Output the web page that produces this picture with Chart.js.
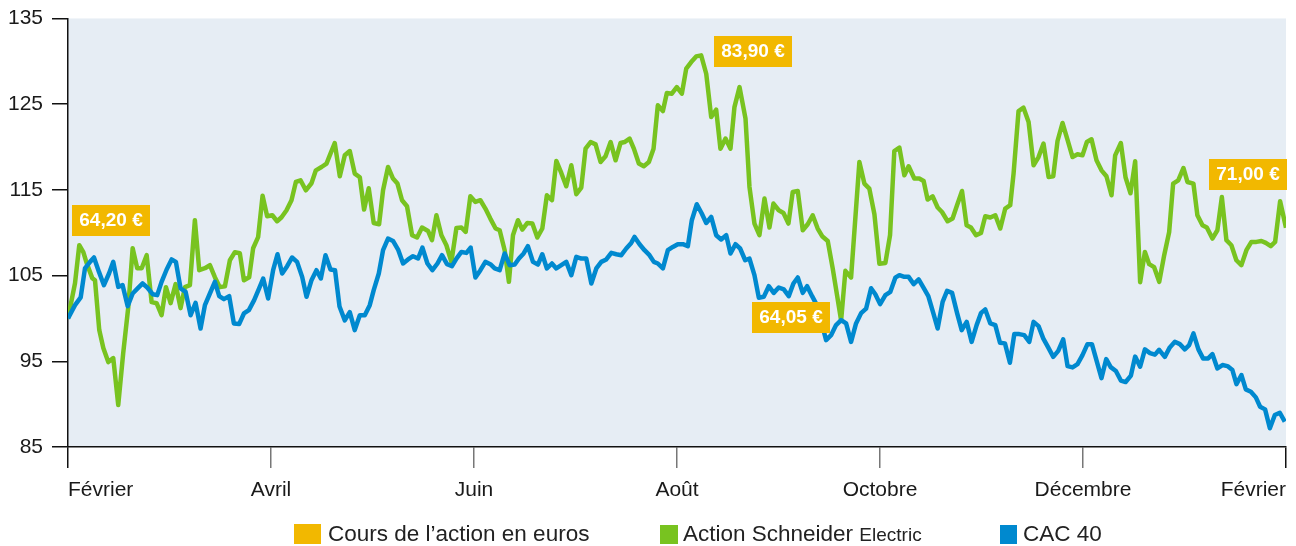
<!DOCTYPE html>
<html>
<head>
<meta charset="utf-8">
<script src="https://cdn.jsdelivr.net/npm/chart.js@4.4.1/dist/chart.umd.min.js"></script>
<style>
  html, body { margin: 0; padding: 0; background: #fff; }
  #wrap { width: 1296px; height: 546px; }
</style>
</head>
<body>
<div id="wrap"><canvas id="myChart" width="1296" height="546"></canvas></div>
<script>
// x = months since start of period, y = index (base 100)
const monthLabels = ['Février', 'Avril', 'Juin', 'Août', 'Octobre', 'Décembre', 'Février'];
const yTicks = [85, 95, 105, 115, 125, 135];

const schneiderMonths = [0, 0.069, 0.111, 0.151, 0.184, 0.239, 0.266, 0.308, 0.348, 0.397, 0.446, 0.495, 0.544, 0.594, 0.637, 0.682, 0.726, 0.775, 0.824, 0.873, 0.922, 0.965, 1.011, 1.060, 1.109, 1.152, 1.201, 1.250, 1.293, 1.349, 1.398, 1.447, 1.496, 1.546, 1.595, 1.644, 1.693, 1.733, 1.785, 1.824, 1.873, 1.917, 1.962, 2.013, 2.060, 2.104, 2.153, 2.202, 2.245, 2.291, 2.343, 2.399, 2.442, 2.498, 2.547, 2.586, 2.628, 2.678, 2.727, 2.776, 2.825, 2.875, 2.917, 2.963, 3.012, 3.065, 3.104, 3.153, 3.202, 3.246, 3.291, 3.340, 3.390, 3.439, 3.488, 3.547, 3.586, 3.630, 3.679, 3.728, 3.777, 3.827, 3.876, 3.918, 3.964, 4.014, 4.063, 4.112, 4.161, 4.213, 4.253, 4.302, 4.344, 4.384, 4.433, 4.476, 4.526, 4.575, 4.624, 4.673, 4.718, 4.768, 4.811, 4.860, 4.909, 4.959, 5.008, 5.057, 5.099, 5.149, 5.198, 5.247, 5.296, 5.346, 5.395, 5.444, 5.483, 5.533, 5.575, 5.624, 5.673, 5.723, 5.769, 5.811, 5.861, 5.900, 5.949, 5.998, 6.048, 6.091, 6.140, 6.189, 6.238, 6.288, 6.337, 6.386, 6.428, 6.478, 6.527, 6.566, 6.616, 6.675, 6.714, 6.763, 6.812, 6.862, 6.911, 6.950, 7.002, 7.049, 7.098, 7.140, 7.190, 7.239, 7.288, 7.337, 7.386, 7.430, 7.485, 7.534, 7.617, 7.659, 7.715, 7.797, 7.846, 7.895, 7.945, 7.994, 8.053, 8.099, 8.141, 8.191, 8.240, 8.282, 8.338, 8.387, 8.430, 8.469, 8.518, 8.568, 8.611, 8.666, 8.715, 8.759, 8.808, 8.853, 8.896, 8.946, 8.995, 9.037, 9.087, 9.136, 9.185, 9.234, 9.283, 9.316, 9.365, 9.414, 9.464, 9.513, 9.562, 9.611, 9.661, 9.707, 9.749, 9.798, 9.847, 9.897, 9.946, 9.995, 10.038, 10.084, 10.133, 10.182, 10.231, 10.281, 10.317, 10.373, 10.419, 10.468, 10.514, 10.563, 10.610, 10.652, 10.701, 10.751, 10.800, 10.849, 10.888, 10.938, 10.990, 11.029, 11.088, 11.127, 11.177, 11.220, 11.275, 11.324, 11.368, 11.413, 11.462, 11.511, 11.560, 11.610, 11.659, 11.708, 11.758, 11.801, 11.850, 11.893, 11.942, 12];
const schneiderIndex = [100, 104.11, 108.54, 107.73, 106.45, 104.70, 104.46, 98.64, 96.54, 94.91, 95.37, 89.90, 95.96, 101.32, 108.19, 105.86, 105.86, 107.38, 101.90, 101.78, 100.38, 103.65, 101.78, 104.00, 101.20, 103.65, 103.88, 111.46, 105.63, 105.86, 106.21, 104.81, 103.65, 103.76, 106.79, 107.73, 107.61, 104.46, 104.81, 108.19, 109.48, 114.31, 111.92, 112.04, 111.34, 111.81, 112.62, 113.79, 115.92, 116.12, 114.95, 115.77, 117.28, 117.67, 118.07, 119.23, 120.47, 116.59, 119.03, 119.53, 116.90, 116.47, 112.70, 115.19, 111.14, 110.99, 114.95, 117.67, 116.32, 115.73, 113.79, 113.09, 109.71, 109.44, 110.61, 110.21, 109.13, 112.04, 109.71, 108.54, 106.60, 110.56, 110.61, 110.09, 114.25, 113.59, 113.79, 112.82, 111.65, 110.49, 110.29, 107.96, 104.27, 109.71, 111.46, 110.37, 111.14, 111.07, 109.44, 110.49, 114.37, 113.79, 118.37, 116.97, 115.42, 117.87, 114.49, 115.27, 119.81, 120.58, 120.31, 118.25, 118.92, 120.58, 118.45, 120.47, 120.58, 120.98, 119.81, 118.07, 117.75, 118.25, 119.81, 124.86, 124.20, 126.29, 126.22, 126.99, 126.22, 129.14, 129.91, 130.57, 130.69, 128.55, 123.50, 124.36, 119.81, 120.98, 119.81, 124.66, 126.99, 123.31, 115.34, 111.07, 109.71, 113.99, 110.61, 113.40, 112.62, 112.31, 111.07, 114.76, 114.87, 110.29, 110.99, 112.04, 110.49, 109.59, 109.04, 105.83, 99.77, 105.55, 104.78, 118.25, 115.73, 115.15, 112.16, 106.39, 106.48, 109.71, 119.53, 119.93, 116.70, 117.75, 116.32, 116.32, 116.04, 113.87, 114.25, 112.94, 112.42, 111.34, 111.65, 113.21, 114.87, 110.87, 110.61, 109.71, 109.98, 111.92, 111.77, 112.04, 110.49, 112.82, 113.21, 116.90, 124.20, 124.59, 122.91, 117.87, 118.83, 120.40, 116.50, 116.59, 120.70, 122.80, 120.86, 118.83, 119.15, 119.03, 120.58, 120.90, 118.45, 117.28, 116.59, 114.37, 119.03, 120.47, 116.47, 114.60, 118.33, 104.23, 107.76, 106.33, 105.98, 104.27, 107.38, 110.09, 115.73, 116.12, 117.55, 115.92, 115.73, 112.04, 110.87, 110.61, 109.32, 110.29, 114.17, 109.13, 108.54, 106.79, 106.21, 107.96, 108.93, 108.93, 109.04, 108.81, 108.43, 108.93, 113.67, 110.59];

const cacMonths = [0, 0.069, 0.125, 0.167, 0.217, 0.256, 0.305, 0.354, 0.404, 0.446, 0.495, 0.538, 0.588, 0.637, 0.686, 0.735, 0.781, 0.834, 0.879, 0.922, 0.972, 1.021, 1.063, 1.109, 1.159, 1.208, 1.257, 1.306, 1.349, 1.398, 1.447, 1.490, 1.536, 1.588, 1.634, 1.686, 1.733, 1.782, 1.834, 1.883, 1.923, 1.972, 2.021, 2.064, 2.110, 2.159, 2.208, 2.257, 2.307, 2.350, 2.399, 2.448, 2.491, 2.537, 2.586, 2.631, 2.675, 2.727, 2.776, 2.825, 2.875, 2.924, 2.973, 3.012, 3.062, 3.104, 3.153, 3.202, 3.252, 3.301, 3.350, 3.399, 3.449, 3.492, 3.541, 3.590, 3.640, 3.685, 3.734, 3.783, 3.827, 3.876, 3.925, 3.967, 4.014, 4.063, 4.112, 4.161, 4.204, 4.253, 4.302, 4.351, 4.401, 4.443, 4.489, 4.531, 4.581, 4.630, 4.673, 4.718, 4.768, 4.811, 4.860, 4.909, 4.959, 5.008, 5.057, 5.106, 5.156, 5.205, 5.254, 5.303, 5.353, 5.402, 5.451, 5.500, 5.549, 5.582, 5.631, 5.680, 5.729, 5.772, 5.811, 5.861, 5.910, 5.959, 6.008, 6.058, 6.107, 6.146, 6.195, 6.244, 6.288, 6.337, 6.386, 6.435, 6.485, 6.527, 6.576, 6.622, 6.672, 6.714, 6.763, 6.806, 6.855, 6.904, 6.953, 7.002, 7.052, 7.101, 7.147, 7.190, 7.239, 7.282, 7.331, 7.378, 7.423, 7.469, 7.518, 7.567, 7.617, 7.666, 7.715, 7.764, 7.814, 7.863, 7.912, 7.954, 8.001, 8.053, 8.102, 8.151, 8.191, 8.240, 8.282, 8.332, 8.381, 8.427, 8.476, 8.526, 8.568, 8.617, 8.661, 8.710, 8.759, 8.805, 8.854, 8.903, 8.952, 8.996, 9.037, 9.087, 9.136, 9.182, 9.231, 9.280, 9.323, 9.372, 9.421, 9.471, 9.513, 9.562, 9.608, 9.657, 9.707, 9.756, 9.805, 9.848, 9.897, 9.946, 9.995, 10.044, 10.088, 10.133, 10.182, 10.229, 10.273, 10.324, 10.373, 10.420, 10.472, 10.514, 10.563, 10.610, 10.660, 10.709, 10.750, 10.806, 10.855, 10.905, 10.954, 11.003, 11.046, 11.088, 11.137, 11.183, 11.233, 11.275, 11.324, 11.374, 11.423, 11.472, 11.512, 11.561, 11.604, 11.654, 11.703, 11.745, 11.794, 11.841, 11.890, 11.939, 11.988];
const cacIndex = [100, 101.55, 102.45, 105.83, 106.60, 107.11, 105.43, 103.88, 105.24, 106.60, 103.68, 103.88, 101.43, 102.91, 103.50, 104.08, 103.61, 102.83, 102.72, 104.27, 105.71, 106.88, 106.60, 103.50, 103.10, 100.38, 101.82, 98.83, 101.55, 102.91, 104.27, 102.60, 102.25, 102.60, 99.42, 99.34, 100.58, 100.97, 102.13, 103.50, 104.66, 102.33, 105.63, 107.49, 105.24, 106.10, 107.11, 106.60, 104.85, 102.52, 104.46, 105.63, 104.66, 107.38, 105.71, 105.63, 101.40, 99.77, 100.73, 98.64, 100.38, 100.38, 101.55, 103.30, 105.24, 107.96, 109.32, 109.04, 108.04, 106.41, 106.88, 107.26, 106.99, 108.27, 106.41, 105.63, 106.41, 107.38, 106.33, 106.10, 106.99, 107.76, 107.65, 108.27, 104.78, 105.63, 106.60, 106.33, 105.83, 105.63, 107.58, 106.21, 106.29, 106.99, 107.58, 108.43, 106.60, 106.29, 107.49, 105.83, 106.41, 105.83, 106.21, 106.60, 105.05, 107.18, 106.99, 106.99, 104.08, 105.83, 106.60, 106.88, 107.65, 107.49, 107.38, 108.16, 108.81, 109.51, 108.66, 107.96, 107.38, 106.60, 106.41, 105.83, 107.96, 108.34, 108.66, 108.66, 108.43, 111.46, 113.32, 112.24, 111.14, 111.84, 109.71, 109.21, 109.71, 107.58, 108.66, 108.16, 106.79, 106.99, 105.05, 102.42, 102.52, 103.76, 102.98, 103.61, 103.38, 102.60, 104.08, 104.78, 102.98, 103.76, 102.60, 101.55, 99.57, 97.47, 98.05, 99.22, 99.80, 99.42, 97.27, 99.42, 100.62, 101.14, 103.53, 102.83, 101.67, 102.72, 103.10, 104.76, 105.05, 104.85, 104.85, 104.00, 104.55, 103.61, 102.60, 100.58, 98.83, 101.93, 103.22, 102.98, 100.65, 98.64, 99.60, 97.27, 99.22, 100.65, 101.05, 99.42, 99.22, 97.16, 97.09, 94.83, 98.17, 98.17, 98.05, 97.27, 99.60, 99.10, 97.67, 96.62, 95.52, 96.22, 97.55, 94.44, 94.29, 94.67, 95.72, 97.00, 97.00, 95.10, 93.04, 95.26, 94.32, 93.86, 92.75, 92.58, 93.33, 95.55, 94.36, 96.39, 95.96, 95.78, 96.34, 95.52, 96.62, 97.27, 97.00, 96.39, 96.89, 98.25, 96.39, 95.34, 95.34, 95.84, 94.17, 94.56, 94.44, 93.97, 92.34, 93.39, 91.72, 91.45, 90.79, 89.70, 89.39, 87.18, 88.73, 89.00, 87.95];

const calloutTexts = ['64,20 €', '83,90 €', '64,05 €', '71,00 €'];
const legendTexts = ['Cours de l’action en euros', 'Action Schneider', 'CAC 40'];

const GREEN = '#78c320';
const BLUE = '#0089cf';
const GOLD = '#f2b800';
const FONT = "'Liberation Sans', Arial, sans-serif";

const toPoints = (xs, ys) => xs.map((x, i) => ({ x: x, y: ys[i] }));

// light blue-grey plot background
const plotBackground = {
  id: 'plotBackground',
  beforeDraw(chart) {
    const { ctx, chartArea: a } = chart;
    ctx.save();
    ctx.fillStyle = '#e6edf4';
    ctx.fillRect(a.left, a.top, a.right - a.left, a.bottom - a.top);
    ctx.restore();
  }
};

// price boxes, top-left corner given in data units
const callouts = {
  id: 'callouts',
  afterDatasetsDraw(chart) {
    const { ctx, scales: { x, y } } = chart;
    const spots = [[0.036, 113.2], [6.36, 133.0], [6.74, 101.87], [11.24, 118.57]];
    ctx.save();
    ctx.font = "bold 19px " + FONT;
    ctx.textBaseline = 'middle';
    ctx.textAlign = 'center';
    calloutTexts.forEach((t, i) => {
      const px = Math.round(x.getPixelForValue(spots[i][0]));
      const py = Math.round(y.getPixelForValue(spots[i][1]));
      ctx.fillStyle = GOLD;
      ctx.fillRect(px, py, 78, 31);
      ctx.fillStyle = '#fff';
      ctx.fillText(t, px + 39, py + 16);
    });
    ctx.restore();
  }
};

// legend row under the axis
const bottomLegend = {
  id: 'bottomLegend',
  afterDraw(chart) {
    const { ctx } = chart;
    const cy = 534;
    ctx.save();
    ctx.textBaseline = 'middle';
    ctx.textAlign = 'left';
    ctx.fillStyle = GOLD;
    ctx.fillRect(294, cy - 10, 27, 20);
    ctx.fillStyle = GREEN;
    ctx.fillRect(660, cy - 9, 18, 19);
    ctx.fillStyle = BLUE;
    ctx.fillRect(1000, cy - 9, 17, 19);
    ctx.fillStyle = '#222';
    ctx.font = '22.5px ' + FONT;
    ctx.fillText(legendTexts[0], 328, cy + 1);
    ctx.fillText(legendTexts[1], 683, cy + 1);
    const w = ctx.measureText(legendTexts[1] + ' ').width;
    ctx.font = '19px ' + FONT;
    ctx.fillText('Electric', 683 + w, cy + 2);
    ctx.font = '22.5px ' + FONT;
    ctx.fillText(legendTexts[2], 1023, cy + 1);
    ctx.restore();
  }
};

window.onload = function() {
  const ctx = document.getElementById('myChart').getContext('2d');
  new Chart(ctx, {
    type: 'line',
    data: {
      datasets: [{
        label: 'CAC 40',
        data: toPoints(cacMonths, cacIndex),
        borderColor: BLUE,
        borderWidth: 4.5,
        pointRadius: 0,
        tension: 0,
        borderJoinStyle: 'round'
      }, {
        label: 'Action Schneider Electric',
        data: toPoints(schneiderMonths, schneiderIndex),
        borderColor: GREEN,
        borderWidth: 4.5,
        pointRadius: 0,
        tension: 0,
        borderJoinStyle: 'round'
      }]
    },
    options: {
      responsive: false,
      animation: false,
      layout: { padding: { top: 15, right: 9, left: 0, bottom: 0 } },
      plugins: { legend: { display: false }, tooltip: { enabled: false } },
      scales: {
        x: {
          type: 'linear',
          min: 0,
          max: 12,
          afterBuildTicks: (scale) => { scale.ticks = monthLabels.map((_, i) => ({ value: i * 2 })); },
          afterFit: (scale) => { scale.height = 99; },
          ticks: {
            align: 'inner',
            padding: 10,
            color: '#1a1a1a',
            font: { family: FONT, size: 21 },
            callback: (v) => monthLabels[v / 2]
          },
          grid: {
            drawOnChartArea: false,
            tickLength: 21,
            lineWidth: 1.5,
            color: (c) => (c.index === 0 || c.index === 6) ? '#111' : '#777'
          },
          border: { color: '#111', width: 1.5 }
        },
        y: {
          min: 85,
          max: 135,
          afterBuildTicks: (scale) => { scale.ticks = yTicks.map(v => ({ value: v })); },
          afterFit: (scale) => { scale.width = 68; },
          ticks: {
            padding: 9,
            color: '#1a1a1a',
            font: { family: FONT, size: 21, lineHeight: 0.9 }
          },
          grid: {
            drawOnChartArea: false,
            tickLength: 16,
            lineWidth: 1.5,
            color: '#111'
          },
          border: { color: '#111', width: 1.5 }
        }
      }
    },
    plugins: [plotBackground, callouts, bottomLegend]
  });
};
</script>
</body>
</html>
